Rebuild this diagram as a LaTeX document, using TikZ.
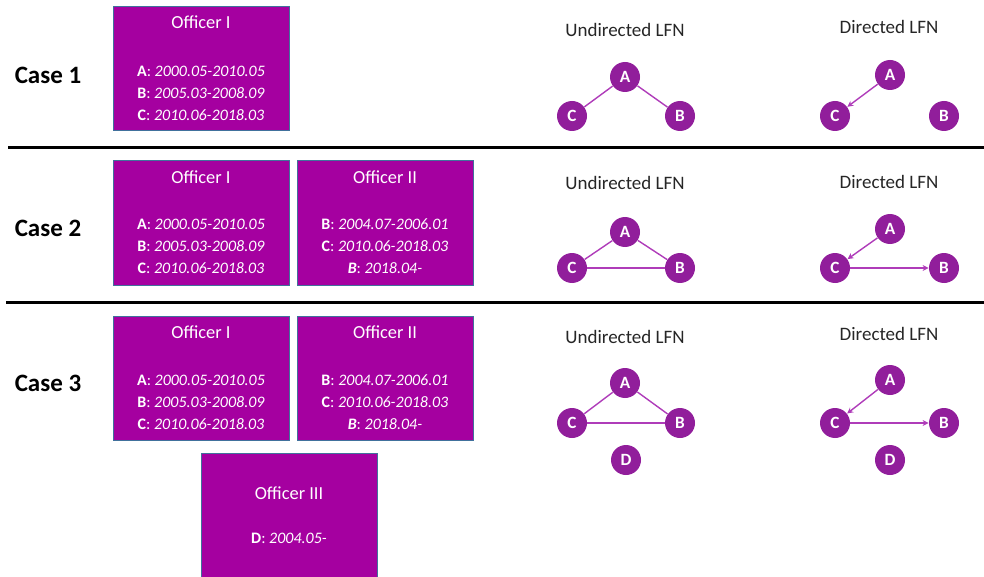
\documentclass[tikz,border=0pt]{standalone}
\usepackage{fontspec}
\setmainfont{Carlito}
\usetikzlibrary{arrows.meta,shapes}

\definecolor{boxpurple}{RGB}{165,0,160}
\definecolor{nodepurple}{RGB}{145,30,155}
\definecolor{edgepurple}{RGB}{175,60,185}
\definecolor{boxline}{RGB}{65,113,156}

\begin{document}
\begin{tikzpicture}[x=0.5pt,y=-0.5pt,
    officer/.style={rectangle,draw=boxline,line width=0.5pt,fill=boxpurple,minimum width=88pt,minimum height=62pt,inner sep=0pt},
    boxtitle/.style={text=white,inner sep=0pt,font=\fontsize{9.2}{11}\selectfont},
    boxtext/.style={text=white,inner sep=0pt,font=\fontsize{8}{10}\selectfont},
    casename/.style={inner sep=0pt,font=\fontsize{12.5}{15}\selectfont\bfseries},
    lfntitle/.style={inner sep=0pt,text=black!85,font=\fontsize{9.5}{11}\selectfont},
    vertex/.style={circle,fill=nodepurple,text=white,minimum size=15pt,inner sep=0pt,font=\fontsize{8.6}{10}\selectfont\bfseries},
    >={Stealth[length=3pt,width=3pt]}]
            \useasboundingbox (0,0) rectangle (984,577);

            % separators
            \draw[line width=1.5pt] (8,148) -- (984,148);
            \draw[line width=1.5pt] (6,302) -- (984,302);

            % case names
            \node[casename] (case1) at (48,75) {Case 1};
            \node[casename] (case2) at (48,228) {Case 2};
            \node[casename] (case3) at (48,383) {Case 3};

            % officer boxes
            \node[officer] (off1a) at (201,69) {};
            \node[boxtitle] (t1a) at (201,22) {Officer I};
            \node[boxtext] (l1a) at (201,71) {\textbf{A}: \textit{2000.05-2010.05}};
            \node[boxtext] (l1b) at (201,93) {\textbf{B}: \textit{2005.03-2008.09}};
            \node[boxtext] (l1c) at (201,115) {\textbf{C}: \textit{2010.06-2018.03}};

            \node[officer] (off2a) at (201,223) {};
            \node[boxtitle] (t2a) at (201,177) {Officer I};
            \node[boxtext] (l2a) at (201,224) {\textbf{A}: \textit{2000.05-2010.05}};
            \node[boxtext] (l2b) at (201,246) {\textbf{B}: \textit{2005.03-2008.09}};
            \node[boxtext] (l2c) at (201,268) {\textbf{C}: \textit{2010.06-2018.03}};

            \node[officer] (off2b) at (385,223) {};
            \node[boxtitle] (t2b) at (385,177) {Officer II};
            \node[boxtext] (l2d) at (385,224) {\textbf{B}: \textit{2004.07-2006.01}};
            \node[boxtext] (l2e) at (385,246) {\textbf{C}: \textit{2010.06-2018.03}};
            \node[boxtext] (l2f) at (385,268) {\textbf{\textit{B}}: \textit{2018.04-}};

            \node[officer] (off3a) at (201,378) {};
            \node[boxtitle] (t3a) at (201,332) {Officer I};
            \node[boxtext] (l3a) at (201,380) {\textbf{A}: \textit{2000.05-2010.05}};
            \node[boxtext] (l3b) at (201,402) {\textbf{B}: \textit{2005.03-2008.09}};
            \node[boxtext] (l3c) at (201,424) {\textbf{C}: \textit{2010.06-2018.03}};

            \node[officer] (off3b) at (385,378) {};
            \node[boxtitle] (t3b) at (385,332) {Officer II};
            \node[boxtext] (l3d) at (385,380) {\textbf{B}: \textit{2004.07-2006.01}};
            \node[boxtext] (l3e) at (385,402) {\textbf{C}: \textit{2010.06-2018.03}};
            \node[boxtext] (l3f) at (385,424) {\textbf{\textit{B}}: \textit{2018.04-}};

            \node[officer] (off3c) at (289,515) {};
            \node[boxtitle] (t3c) at (289,493) {Officer III};
            \node[boxtext] (l3g) at (289,538) {\textbf{D}: \textit{2004.05-}};

            % titles of the networks
            \node[lfntitle] (ut1) at (625,30) {Undirected LFN};
            \node[lfntitle] (dt1) at (889,27) {Directed LFN};
            \node[lfntitle] (ut2) at (625,183) {Undirected LFN};
            \node[lfntitle] (dt2) at (889,182) {Directed LFN};
            \node[lfntitle] (ut3) at (625,337) {Undirected LFN};
            \node[lfntitle] (dt3) at (889,334) {Directed LFN};

            \begin{scope}[every node/.style={vertex}]
                \node (ua1) at (625,77) {A};
                \node (uc1) at (572,116) {C};
                \node (ub1) at (680,116) {B};
                \node (da1) at (890,75) {A};
                \node (dc1) at (835,116) {C};
                \node (db1) at (944,116) {B};

                \node (ua2) at (625,232) {A};
                \node (uc2) at (572,268) {C};
                \node (ub2) at (680,268) {B};
                \node (da2) at (890,229) {A};
                \node (dc2) at (835,268) {C};
                \node (db2) at (944,268) {B};

                \node (ua3) at (625,383) {A};
                \node (uc3) at (572,423) {C};
                \node (ub3) at (680,423) {B};
                \node (ud3) at (626,460) {D};
                \node (da3) at (890,380) {A};
                \node (dc3) at (835,423) {C};
                \node (db3) at (944,423) {B};
                \node (dd3) at (890,460) {D};
            \end{scope}

            \begin{scope}[edgepurple,line width=0.7pt]
                \path (ua1) edge (uc1);
                \path (ua1) edge (ub1);
                \path [->] (da1) edge (dc1);

                \path (ua2) edge (uc2);
                \path (ua2) edge (ub2);
                \path (uc2) edge (ub2);
                \path [->] (da2) edge (dc2);
                \path [->] (dc2) edge (db2);

                \path (ua3) edge (uc3);
                \path (ua3) edge (ub3);
                \path (uc3) edge (ub3);
                \path [->] (da3) edge (dc3);
                \path [->] (dc3) edge (db3);
            \end{scope}
\end{tikzpicture}
\end{document}
